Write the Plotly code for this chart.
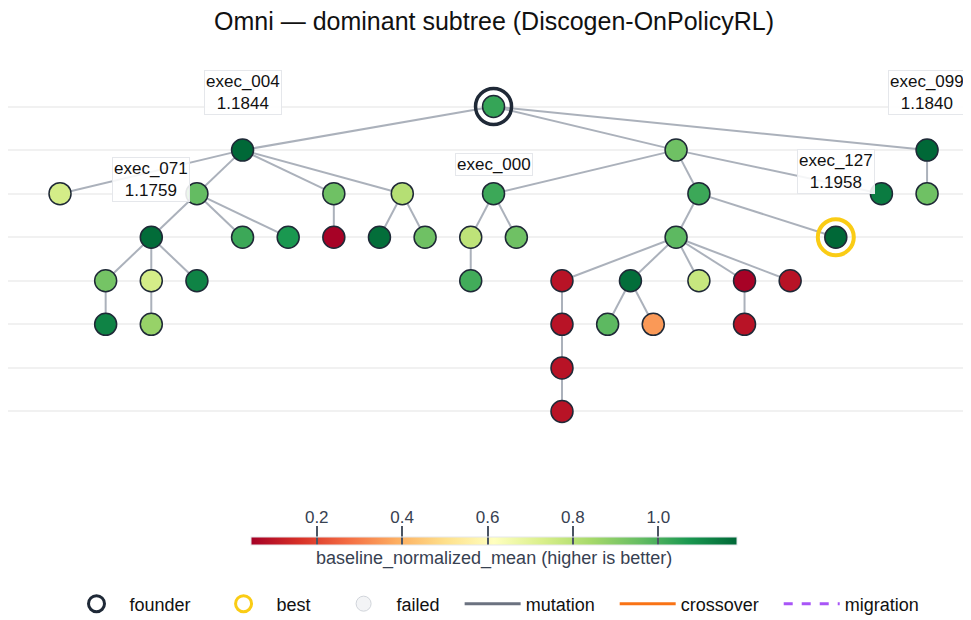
import plotly.graph_objects as go

# --- données : sous-arbre dominant ---
title_text = "Omni — dominant subtree (Discogen-OnPolicyRL)"
cbar_title = "baseline_normalized_mean (higher is better)"

node_ids = ["exec_000", "exec_004", "n02", "exec_099",
            "n04", "n05", "n06", "n07", "n08", "n09", "n10", "n11",
            "exec_071", "n13", "n14", "n15", "n16", "n17", "n18", "n19", "n20", "exec_127",
            "n22", "n23", "n24", "n25", "n26", "n27", "n28", "n29", "n30",
            "n31", "n32", "n33", "n34", "n35", "n36",
            "n37", "n38"]
node_slot = [9.5, 4, 13.5, 19,
             0, 3, 6, 7.5, 9.5, 14, 18, 19,
             2, 4, 5, 6, 7, 8, 9, 10, 13.5, 17,
             1, 2, 3, 9, 11, 12.5, 14, 15, 16,
             1, 2, 11, 12, 13, 15,
             11, 11]
node_depth = [0, 1, 1, 1,
              2, 2, 2, 2, 2, 2, 2, 2,
              3, 3, 3, 3, 3, 3, 3, 3, 3, 3,
              4, 4, 4, 4, 4, 4, 4, 4, 4,
              5, 5, 5, 5, 5, 5,
              6, 7]
node_parent = [None, 0, 0, 0,
               1, 1, 1, 1, 2, 2, 2, 3,
               5, 5, 5, 6, 7, 7, 8, 8, 9, 9,
               12, 12, 12, 18, 20, 20, 20, 20, 20,
               22, 23, 26, 27, 27, 29,
               33, 37]
node_score = [1.03, 1.1844, 0.94, 1.1840,
              0.74, 0.96, 0.94, 0.81, 1.02, 1.02, 1.14, 0.94,
              1.1759, 1.02, 1.07, 0.05, 1.17, 0.94, 0.79, 0.94, 0.97, 1.1958,
              0.93, 0.74, 1.12, 1.01, 0.09, 1.17, 0.77, 0.05, 0.09,
              1.12, 0.87, 0.09, 0.97, 0.35, 0.09,
              0.09, 0.09]

founder_id = "exec_000"
best_id = "exec_127"
labelled_ids = ["exec_004", "exec_099", "exec_071", "exec_127", "exec_000"]

color_min = 0.046
color_max = 1.1844
cbar_ticks = [0.2, 0.4, 0.6, 0.8, 1.0]

legend_names = ["founder", "best", "failed", "mutation", "crossover", "migration"]

# --- arêtes ---
edge_x, edge_y = [], []
for i, p in enumerate(node_parent):
    if p is None:
        continue
    edge_x += [node_slot[p], node_slot[i], None]
    edge_y += [node_depth[p], node_depth[i], None]

fig = go.Figure()

fig.add_trace(go.Scatter(
    x=edge_x, y=edge_y, mode="lines",
    line=dict(color="rgba(156,163,175,0.85)", width=2),
    hoverinfo="skip", showlegend=False
))

# anneaux fondateur / meilleur
fi = node_ids.index(founder_id)
bi = node_ids.index(best_id)
fig.add_trace(go.Scatter(
    x=[node_slot[fi]], y=[node_depth[fi]], mode="markers",
    marker=dict(symbol="circle-open", size=36, color="#1f2937", line=dict(width=3.5)),
    hoverinfo="skip", showlegend=False
))
fig.add_trace(go.Scatter(
    x=[node_slot[bi]], y=[node_depth[bi]], mode="markers",
    marker=dict(symbol="circle-open", size=36, color="#facc15", line=dict(width=4)),
    hoverinfo="skip", showlegend=False
))

# noeuds
fig.add_trace(go.Scatter(
    x=node_slot, y=node_depth, mode="markers",
    marker=dict(
        size=22, color=node_score, colorscale="RdYlGn",
        cmin=color_min, cmax=color_max,
        line=dict(color="#1f2937", width=1.5),
        colorbar=dict(
            orientation="h", x=0.5, xanchor="center",
            y=-0.184, yanchor="top",
            len=506, lenmode="pixels", thickness=8,
            tickvals=cbar_ticks, tickformat=".1f",
            ticks="inside", ticklabelposition="inside",
            ticklen=19, tickwidth=1.5, tickcolor="#4b5563",
            tickfont=dict(size=17, color="#374151"),
            outlinewidth=1, outlinecolor="#e5e7eb",
        ),
    ),
    text=[f"{n}<br>{s:.4f}" for n, s in zip(node_ids, node_score)],
    hoverinfo="text", showlegend=False
))

# titre de l'échelle de couleur, sous la barre
fig.add_annotation(
    x=0.5, y=-0.296, xref="paper", yref="paper", text=cbar_title,
    showarrow=False, font=dict(size=18, color="#374151")
)

# entrées de légende (espaces insécables pour l'écart entre entrées)
pad = "\u00a0" * 3
fig.add_trace(go.Scatter(x=[None], y=[None], mode="markers", name=legend_names[0] + pad,
                         marker=dict(symbol="circle-open", size=18, color="#1f2937", line=dict(width=3))))
fig.add_trace(go.Scatter(x=[None], y=[None], mode="markers", name=legend_names[1] + pad,
                         marker=dict(symbol="circle-open", size=18, color="#facc15", line=dict(width=3))))
fig.add_trace(go.Scatter(x=[None], y=[None], mode="markers", name=legend_names[2] + pad,
                         marker=dict(symbol="circle", size=15, color="#f3f4f6",
                                     line=dict(color="#d1d5db", width=1))))
fig.add_trace(go.Scatter(x=[None], y=[None], mode="lines", name=legend_names[3] + pad,
                         line=dict(color="#6b7280", width=3)))
fig.add_trace(go.Scatter(x=[None], y=[None], mode="lines", name=legend_names[4] + pad,
                         line=dict(color="#f97316", width=3)))
fig.add_trace(go.Scatter(x=[None], y=[None], mode="lines", name=legend_names[5],
                         line=dict(color="#a855f7", width=3, dash="dash")))

# étiquettes
for nid in labelled_ids:
    i = node_ids.index(nid)
    if nid == founder_id:
        txt, shift = nid, -58
    else:
        txt = f"{nid}<br>{node_score[i]:.4f}"
        shift = 66 if nid == best_id else 58
    fig.add_annotation(
        x=node_slot[i], y=node_depth[i], text=txt, showarrow=False,
        yshift=shift, font=dict(size=17, color="#111111"),
        bgcolor="rgba(255,255,255,0.88)", bordercolor="#e5e7eb",
        borderwidth=1, borderpad=1
    )

fig.update_layout(
    width=972, height=620,
    title=dict(text=title_text, x=0.5, xref="paper", xanchor="center",
               y=0.979, yanchor="middle",
               font=dict(size=25, color="#111111")),
    font=dict(family="Liberation Sans, Arial, sans-serif"),
    plot_bgcolor="white", paper_bgcolor="white",
    margin=dict(l=0, r=0, t=55, b=173),
    xaxis=dict(range=[-1.14, 20.16], showgrid=False, zeroline=False,
               showticklabels=False, fixedrange=True),
    yaxis=dict(range=[8, -1], tickvals=list(range(8)), showgrid=True,
               gridcolor="#f1f1f1", gridwidth=1.5, zeroline=False,
               showticklabels=False, fixedrange=True),
    legend=dict(orientation="h", x=0.5, xanchor="center", y=-0.38, yanchor="middle",
                itemwidth=56, font=dict(size=18, color="#111111")),
    showlegend=True,
)

fig.write_html("out.html")
